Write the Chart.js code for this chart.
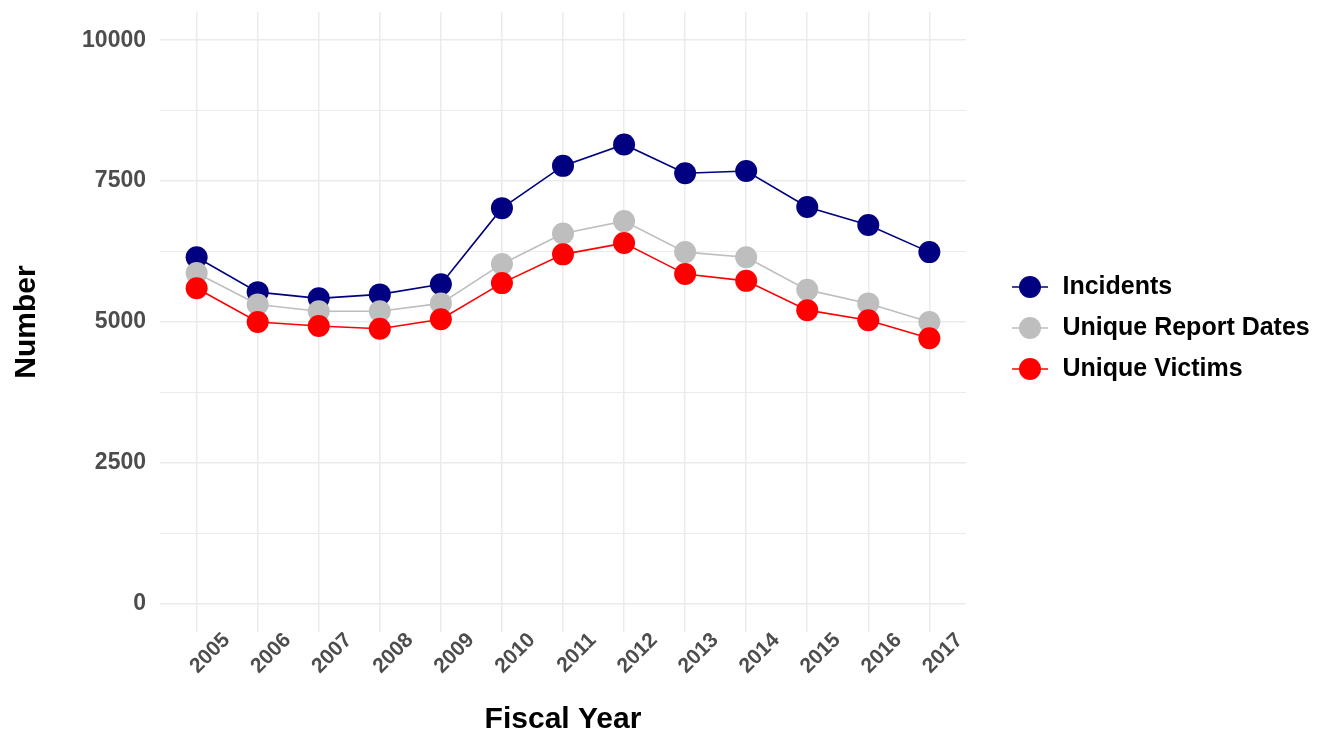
<!DOCTYPE html>
<html>
<head>
<meta charset="utf-8">
<script src="https://cdn.jsdelivr.net/npm/chart.js@4.4.1/dist/chart.umd.min.js"></script>
<style>
html, body { margin: 0; padding: 0; background: #fff; }
</style>
</head>
<body>
<canvas id="graph1" width="1323" height="735"></canvas>
<script>
// Fiscal years and the three counts per year
var years = [2005, 2006, 2007, 2008, 2009, 2010, 2011, 2012, 2013, 2014, 2015, 2016, 2017];
var incidents = [6150, 5530, 5420, 5490, 5670, 7020, 7770, 8150, 7640, 7680, 7040, 6720, 6240];
var reportDates = [5870, 5310, 5190, 5190, 5330, 6030, 6570, 6790, 6240, 6150, 5570, 5330, 5000];
var victims = [5600, 5000, 4930, 4880, 5050, 5690, 6200, 6400, 5850, 5730, 5210, 5030, 4710];
var yTicks = [0, 2500, 5000, 7500, 10000];

var FONT = "'Liberation Sans', Arial, sans-serif";

function points(vals) {
    return years.map(function (yr, i) { return { x: yr, y: vals[i] }; });
}

// legend marker: a short line with a dot on it
function marker(color) {
    var c = document.createElement('canvas');
    c.width = 68; c.height = 24;
    var g = c.getContext('2d');
    g.strokeStyle = color;
    g.lineWidth = 1.6;
    g.beginPath(); g.moveTo(30, 12); g.lineTo(66, 12); g.stroke();
    g.fillStyle = color;
    g.beginPath(); g.arc(48, 12, 11, 0, Math.PI * 2); g.fill();
    return c;
}

function series(label, vals, color, order) {
    return {
        label: label,
        data: points(vals),
        borderColor: color,
        backgroundColor: color,
        borderWidth: 1.6,
        pointRadius: 11,
        pointHoverRadius: 11,
        pointBorderWidth: 0,
        pointStyle: 'circle',
        order: order,
        legendMarker: marker(color)
    };
}

// keep the legend block level with the middle of the plot,
// and let its labels run out to the canvas edge
var legendShift = {
    id: 'legendShift',
    afterLayout: function (chart) {
        var lg = chart.legend;
        if (!lg) return;
        lg.bottom = 656 - lg.top;
        lg.right = chart.width;
        lg.width = lg.right - lg.left;
    }
};

var ctx1 = document.getElementById('graph1').getContext('2d');
var graph1 = new Chart(ctx1, {
    type: 'line',
    data: {
        datasets: [
            series('Incidents', incidents, '#000080', 3),
            series('Unique Report Dates', reportDates, '#BEBEBE', 2),
            series('Unique Victims', victims, '#FF0000', 1)
        ]
    },
    plugins: [legendShift],
    options: {
        responsive: false,
        animation: false,
        layout: { padding: { left: 0, right: 35, top: 0, bottom: 0 } },
        plugins: {
            tooltip: { enabled: false },
            legend: {
                position: 'right',
                align: 'center',
                labels: {
                    usePointStyle: true,
                    pointStyleWidth: 68,
                    padding: 16,
                    color: '#000',
                    font: { family: FONT, size: 25, weight: 'bold' },
                    generateLabels: function (chart) {
                        return chart.data.datasets.map(function (ds, i) {
                            return {
                                text: ds.label,
                                datasetIndex: i,
                                pointStyle: ds.legendMarker,
                                fillStyle: ds.borderColor,
                                strokeStyle: ds.borderColor,
                                lineWidth: 0,
                                fontColor: '#000'
                            };
                        });
                    }
                }
            }
        },
        scales: {
            x: {
                type: 'linear',
                min: 2004.4,
                max: 2017.6,
                afterBuildTicks: function (axis) {
                    axis.ticks = years.map(function (v) { return { value: v }; });
                },
                afterFit: function (axis) {
                    axis.height = 103;
                },
                grid: { color: '#EBEBEB', lineWidth: 1.5, drawTicks: false },
                border: { display: false },
                ticks: {
                    minRotation: 45,
                    maxRotation: 45,
                    padding: -4,
                    labelOffset: 30,
                    color: '#4D4D4D',
                    font: { family: FONT, size: 21, weight: 'bold' },
                    callback: function (v) { return String(v); }
                },
                title: {
                    display: true,
                    text: 'Fiscal Year',
                    color: '#000',
                    font: { family: FONT, size: 30, weight: 'bold' },
                    padding: { top: 4, bottom: -3 }
                }
            },
            y: {
                min: -500,
                max: 10500,
                afterBuildTicks: function (axis) {
                    var t = [];
                    for (var v = 0; v <= 10000; v += 1250) t.push({ value: v });
                    axis.ticks = t;
                },
                afterFit: function (axis) {
                    axis.width = 160;
                    axis.paddingTop = 12;
                    axis.paddingBottom = 0;
                },
                grid: {
                    color: '#EBEBEB',
                    drawTicks: false,
                    lineWidth: function (c) {
                        return yTicks.indexOf(c.tick.value) >= 0 ? 1.5 : 1;
                    }
                },
                border: { display: false },
                ticks: {
                    padding: 14,
                    color: '#4D4D4D',
                    font: { family: FONT, size: 23, weight: 'bold' },
                    callback: function (v) { return yTicks.indexOf(v) >= 0 ? String(v) : ''; }
                },
                title: {
                    display: true,
                    text: 'Number',
                    color: '#000',
                    font: { family: FONT, size: 30, weight: 'bold' },
                    padding: { top: 9, bottom: 37 }
                }
            }
        }
    }
});
</script>
</body>
</html>
